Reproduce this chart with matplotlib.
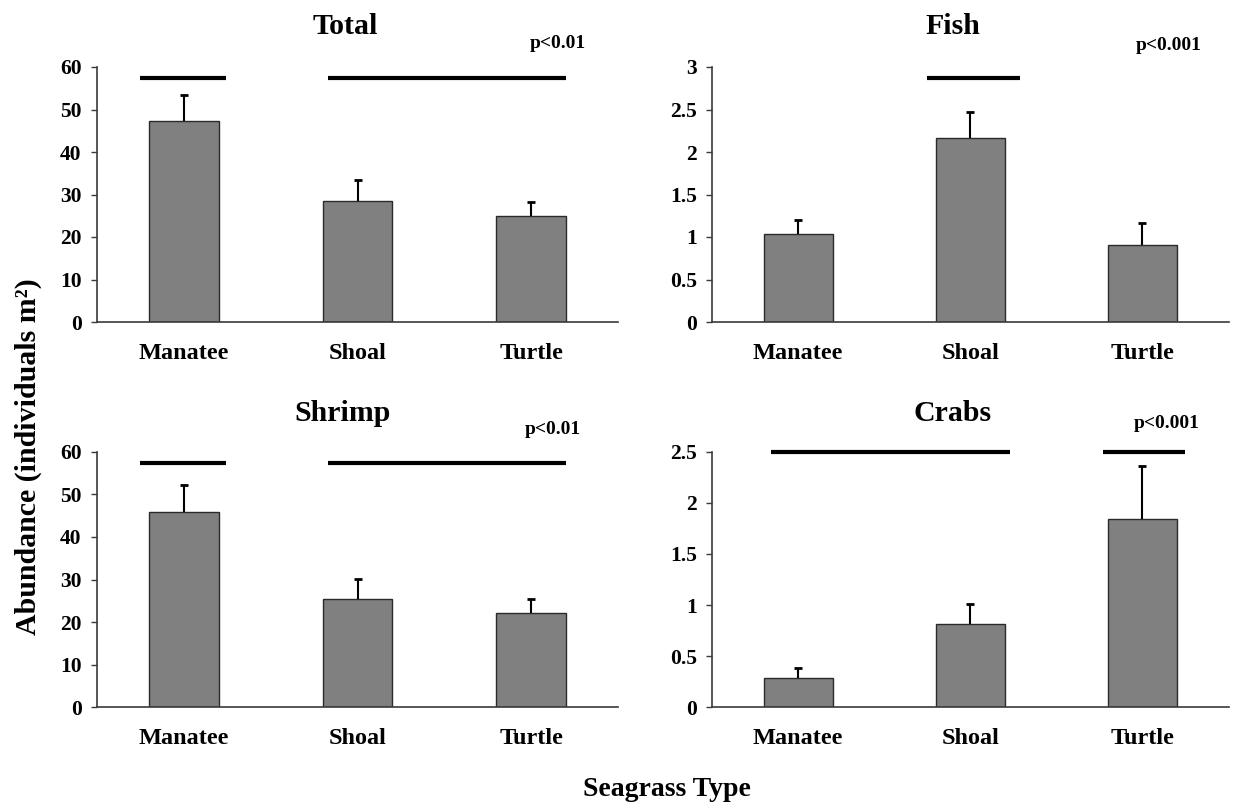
import matplotlib
matplotlib.use("Agg")
import matplotlib.pyplot as plt
from matplotlib.ticker import FuncFormatter

# ---- data ----
categories = ["Manatee", "Shoal", "Turtle"]

total_mean = [47.2, 28.4, 24.9]
total_err = [6.3, 4.9, 3.4]
fish_mean = [1.04, 2.17, 0.91]
fish_err = [0.16, 0.30, 0.25]
shrimp_mean = [45.8, 25.4, 22.2]
shrimp_err = [6.3, 4.7, 3.2]
crab_mean = [0.29, 0.81, 1.84]
crab_err = [0.095, 0.20, 0.52]

titles = ["Total", "Fish", "Shrimp", "Crabs"]
pvals = ["p<0.01", "p<0.001", "p<0.01", "p<0.001"]
ymax = [60, 3, 60, 2.5]
ysteps = [10, 0.5, 10, 0.5]

# significance grouping bars: (x start, x end, y)
total_groups = [(-0.25, 0.24, 57.3), (0.83, 2.2, 57.3)]
fish_groups = [(0.75, 1.29, 2.87)]
shrimp_groups = [(-0.25, 0.24, 57.3), (0.83, 2.2, 57.3)]
crab_groups = [(-0.16, 1.23, 2.495), (1.77, 2.25, 2.495)]

means = [total_mean, fish_mean, shrimp_mean, crab_mean]
errs = [total_err, fish_err, shrimp_err, crab_err]
groups = [total_groups, fish_groups, shrimp_groups, crab_groups]

# ---- style ----
plt.rcParams['font.family'] = ['Liberation Serif', 'DejaVu Serif']
plt.rcParams['font.weight'] = 'bold'

W, H = 1243, 802
fig = plt.figure(figsize=(W / 100, H / 100), dpi=100)

axes_rects = [
    (97 / W, 1 - 322 / H, 521 / W, 255 / H),
    (712 / W, 1 - 322 / H, 516.5 / W, 255 / H),
    (97 / W, 1 - 707.3 / H, 521 / W, 255.6 / H),
    (712 / W, 1 - 707.3 / H, 516.5 / W, 255.6 / H),
]
title_pos = [(0.476, 1.16), (0.467, 1.16), (0.472, 1.15), (0.465, 1.15)]
p_pos = [(0.885, 1.094), (0.885, 1.086), (0.875, 1.085), (0.880, 1.112)]

xs = list(range(len(categories)))
spine_col = "#3a3a3a"

for i in range(4):
    ax = fig.add_axes(axes_rects[i])
    ax.bar(xs, means[i], width=0.4, color="#808080", edgecolor="#2a2a2a",
           linewidth=1.0, zorder=2)
    # symmetric error bars drawn behind the opaque bars -> only upper half shows
    ax.errorbar(xs, means[i], yerr=errs[i], fmt="none",
                ecolor="black", elinewidth=1.5, capsize=3.2, capthick=2.0,
                zorder=1)
    for (x0, x1, y) in groups[i]:
        ax.plot([x0, x1], [y, y], color="black", linewidth=3.0,
                solid_capstyle="butt", clip_on=False, zorder=3)
    ax.set_xlim(-0.5, 2.5)
    ax.set_ylim(0, ymax[i])
    n = int(round(ymax[i] / ysteps[i]))
    ax.set_yticks([k * ysteps[i] for k in range(n + 1)])
    ax.yaxis.set_major_formatter(FuncFormatter(lambda v, p: f"{v:g}"))
    ax.set_xticks(xs)
    ax.set_xticklabels(categories, fontsize=17.5, fontweight="bold")
    ax.tick_params(axis="x", length=0, pad=15)
    ax.tick_params(axis="y", direction="out", length=4, width=1.0,
                   color=spine_col, pad=7, labelsize=15.5)
    for lab in ax.get_yticklabels():
        lab.set_fontweight("bold")
    for s in ["top", "right"]:
        ax.spines[s].set_visible(False)
    for s in ["left", "bottom"]:
        ax.spines[s].set_color(spine_col)
        ax.spines[s].set_linewidth(1.2)
    ax.text(title_pos[i][0], title_pos[i][1], titles[i], transform=ax.transAxes,
            ha="center", va="center", fontsize=21.5, fontweight="bold")
    ax.text(p_pos[i][0], p_pos[i][1], pvals[i], transform=ax.transAxes,
            ha="center", va="center", fontsize=14, fontweight="bold")

fig.text(28 / W, 1 - 457 / H, "Abundance (individuals m²)",
         rotation=90, ha="center", va="center", fontsize=21.5, fontweight="bold")
fig.text(667 / W, 1 - 789 / H, "Seagrass Type", ha="center", va="center",
         fontsize=20, fontweight="bold")

fig.savefig("out.png", dpi=100)
